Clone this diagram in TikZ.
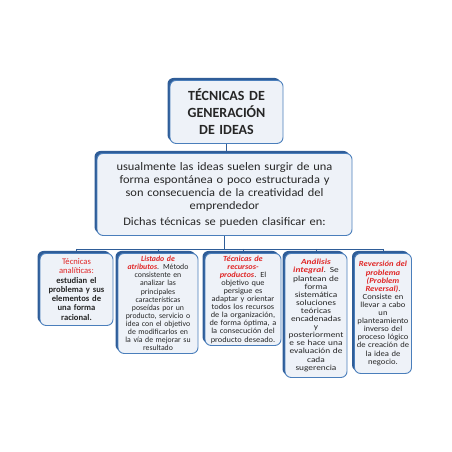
\documentclass[tikz,border=0pt]{standalone}
\usepackage{fontspec}
\setmainfont{Carlito}
\newfontfamily\introfont[FakeStretch=1.08]{Carlito}
\newfontfamily\widefont[FakeStretch=1.07]{Carlito}
\newfontfamily\widerfont[FakeStretch=1.1]{Carlito}
\newfontfamily\widestfont[FakeStretch=1.2]{Carlito}
\usetikzlibrary{shadows}
\definecolor{boxline}{HTML}{4A7EBB}
\definecolor{boxshade}{HTML}{2F5D98}
\definecolor{boxfill}{HTML}{EEF2F8}
\definecolor{lblred}{HTML}{E02626}
\definecolor{txtgray}{HTML}{262626}
\newcommand{\rlab}[1]{\textcolor{lblred}{\textbf{\textit{#1}}}}
\newcommand{\rtx}[1]{\textcolor{lblred}{#1}}
\begin{document}
\begin{tikzpicture}[x=1pt,y=-1pt,
 tbox/.style={draw=boxline, line width=0.9pt, fill=boxfill, rounded corners=6pt, text=txtgray,
   align=center, inner sep=2pt, anchor=north,
   general shadow={fill=boxshade, shadow xshift=-2.5pt, shadow yshift=2.5pt}},
 small/.style={font=\fontsize{7.8}{8.1}\selectfont},
 wire/.style={draw=boxshade, line width=0.8pt}]
 \useasboundingbox (0,0) rectangle (452,452);
 % top of the tree
 \node[tbox, minimum width=113pt, minimum height=63pt, text width=105pt,
   font=\fontsize{14}{17}\selectfont\bfseries] (title) at (226.5,80) {TÉCNICAS DE\\GENERACIÓN\\DE IDEAS};
 \node[tbox, minimum width=255pt, minimum height=82pt, text width=247pt,
   font=\fontsize{11.5}{13}\introfont] (intro) at (224.5,153)
   {usualmente las ideas suelen surgir de una\\forma espontánea o poco estructurada y\\son consecuencia de la creatividad del\\emprendedor\\[3pt]Dichas técnicas se pueden clasificar en:};
 %
 % the five techniques
 \node[tbox, minimum width=73pt, minimum height=72pt, text width=67pt,
   font=\fontsize{8.6}{9.3}\selectfont] (c1) at (76.5,253)
   {\rtx{Técnicas}\\\rtx{analíticas:}\\\bfseries estudian el\\\bfseries problema y sus\\\bfseries elementos de\\\bfseries una forma\\\bfseries racional.};
 \node[tbox, small, minimum width=80pt, minimum height=100pt, text width=76pt] (c2) at (158,253)
   {\rlab{Listado de}\\\rlab{atributos}. Método\\consistente en\\analizar las\\principales\\características\\poseídas por un\\producto, servicio o\\idea con el objetivo\\de modificarlos en\\la vía de mejorar su\\resultado};
 \node[tbox, small, minimum width=76pt, minimum height=92pt, text width=72pt] (c3) at (243,253)
   {\widefont\rlab{Técnicas de}\\\rlab{recursos-}\\\rlab{productos}. El\\objetivo que\\persigue es\\adaptar y orientar\\todos los recursos\\de la organización,\\de forma óptima, a\\la consecución del\\producto deseado.};
 \node[tbox, small, minimum width=62pt, minimum height=124pt, text width=60pt, inner sep=1pt] (c4) at (316,253)
   {\widestfont\rlab{Análisis}\\\rlab{integral}. Se\\plantean de\\forma\\sistemática\\soluciones\\teóricas\\encadenadas\\y\\posteriorment\\e se hace una\\evaluación de\\cada\\sugerencia};
 \node[tbox, small, minimum width=57pt, minimum height=120pt, text width=55pt, inner sep=1pt] (c5) at (383,253)
   {\widerfont\rlab{Reversión del}\\\rlab{problema}\\\rlab{(Problem}\\\rlab{Reversal)}.\\Consiste en\\llevar a cabo\\un\\planteamiento\\inverso del\\proceso lógico\\de creación de\\la idea de\\negocio.};
 %
 % connectors
 \draw[wire] (title.south) -- (title.south |- intro.north);
 \path (intro.south) ++(0,13) coordinate (bus);
 \draw[wire] (intro.south) -- (bus);
 \draw[wire] (bus -| c1.north) -- (bus -| c5.north);
 \foreach \k in {c1,c2,c3,c4,c5} \draw[wire] (bus -| \k.north) -- (\k.north);
\end{tikzpicture}
\end{document}
